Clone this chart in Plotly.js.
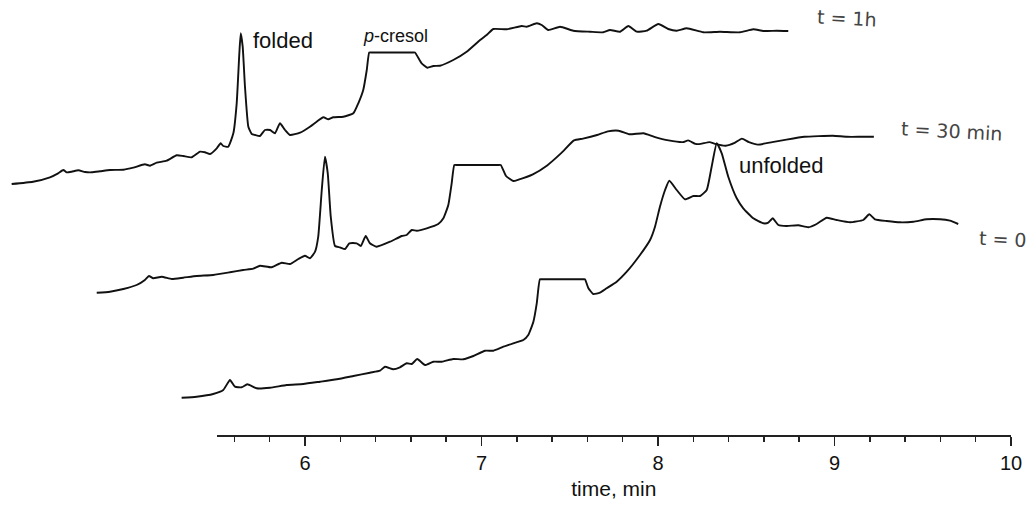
<!DOCTYPE html>
<html>
<head>
<meta charset="utf-8">
<script src="https://cdn.plot.ly/plotly-3.0.1.min.js"></script>
<style>html,body{margin:0;padding:0;background:#fff;}#chart{width:1034px;height:508px;}</style>
</head>
<body>
<div id="chart"></div>
<script>
// t = 1h chromatogram (time, min ; signal, a.u. with waterfall offset)
const t1h_time = [4.338,4.459,4.555,4.601,4.631,4.650,4.678,4.716,4.754,4.792,4.839,4.895,4.971,5.027,5.093,5.122,5.160,5.216,5.273,5.310,5.358,5.405,5.433,5.462,5.500,5.522,5.537,5.565,5.594,5.613,5.628,5.636,5.647,5.660,5.679,5.698,5.717,5.745,5.773,5.802,5.830,5.858,5.887,5.915,5.972,6.028,6.066,6.104,6.132,6.160,6.217,6.274,6.302,6.330,6.350,6.364,6.378,6.494,6.609,6.623,6.661,6.693,6.727,6.765,6.840,6.916,6.992,7.029,7.067,7.143,7.228,7.256,7.313,7.341,7.378,7.445,7.520,7.615,7.690,7.728,7.785,7.832,7.879,7.936,8.002,8.058,8.106,8.163,8.257,8.351,8.465,8.540,8.597,8.673,8.738];
const t1h_signal = [251,253.3,257.7,261.7,265,262.7,263.3,264.7,263,262.7,263.7,265,265.3,267.3,270.7,269.3,272.3,274.3,279.7,279,277.7,283.3,282.7,281,286.7,291.7,289,288.3,301.7,331.7,381.7,401.7,388.3,348.3,308.3,301,300,299,305,305,301.7,311.7,305,300,302.3,308.3,313.3,317.7,315.7,317.7,318.3,321.7,331.7,345,365,382.5,382.5,382.5,382.5,382.5,371.7,367.3,369,369.3,375,383.3,395,400,406,405.7,409,408.3,411.7,410,405,408.3,404.3,403.3,402.7,405,403.3,409,403.3,404.3,411,406,404.3,406.7,402.7,403.3,402.7,405.7,404,404.3,404];

// t = 30 min chromatogram
const t30_time = [4.820,4.895,4.971,5.046,5.093,5.116,5.140,5.188,5.245,5.310,5.386,5.480,5.575,5.650,5.707,5.745,5.811,5.868,5.915,5.962,6.000,6.028,6.057,6.075,6.095,6.113,6.129,6.146,6.170,6.198,6.227,6.251,6.293,6.316,6.344,6.368,6.406,6.482,6.548,6.576,6.605,6.633,6.690,6.755,6.784,6.812,6.831,6.846,6.860,6.978,7.095,7.109,7.139,7.180,7.210,7.291,7.372,7.453,7.524,7.575,7.655,7.716,7.777,7.837,7.918,7.979,8.060,8.141,8.171,8.212,8.242,8.292,8.323,8.384,8.434,8.475,8.515,8.566,8.647,8.728,8.829,8.910,8.991,9.071,9.152,9.223];
const t30_signal = [142.3,143.3,146,150,155,159,156.7,158.3,156,157.3,159,160,162.7,165,166.3,169.3,167.7,172.3,171,176,179.3,176.7,183.3,198.3,245,278.3,261.7,218.3,189,187.7,186,191.7,191.7,189,199,191.7,188.3,193.3,199,200,205,204.3,206.7,211,216.7,230,251.7,270,270,270,270,270,259,254,255.4,260.7,269.6,282.1,294.6,296.4,300,303.6,304.3,300.7,301.8,298.2,294.6,292.9,294.6,291.1,291.1,292.9,291.1,289.3,292.1,296.4,292.9,290.4,292.9,295.4,298.2,298.9,299.3,298.2,298.2,298.2];

// t = 0 chromatogram
const t0_time = [5.301,5.386,5.480,5.537,5.575,5.603,5.641,5.673,5.726,5.802,5.896,5.990,6.085,6.180,6.274,6.368,6.425,6.453,6.500,6.538,6.576,6.605,6.636,6.680,6.727,6.775,6.840,6.897,6.954,7.020,7.067,7.124,7.180,7.237,7.265,7.294,7.313,7.331,7.345,7.458,7.572,7.586,7.605,7.633,7.671,7.709,7.766,7.823,7.898,7.955,7.983,8.011,8.040,8.064,8.106,8.153,8.200,8.238,8.276,8.304,8.333,8.361,8.398,8.446,8.483,8.540,8.597,8.625,8.650,8.682,8.729,8.795,8.852,8.899,8.956,9.013,9.088,9.163,9.197,9.229,9.296,9.371,9.447,9.522,9.598,9.654,9.701];
const t0_signal = [37.3,38.3,41,45,55,48.3,47.7,50.7,46.7,47.3,50,51,53.3,55.7,59,62.3,64.3,68.3,65.7,67.7,71.7,71,76,70,73.3,73.3,76,75.7,79,84.3,84.3,88.3,91.7,95,100,113.3,131.7,155.7,155.7,155.7,155.7,155.7,147,141,142.3,146.7,153.3,163.3,180,195,208.3,228.3,245,254.3,245,235.7,239,239,245,268.3,291.7,281.7,258.3,236.7,226.7,216.7,211.7,212.3,216.7,210,209,209.7,207.7,211,217.3,215,212.7,215,220.7,215.7,214,212.7,213.3,215.7,215.7,214.3,211];

const majorTicks = [6,7,8,9,10];
const minorTicks = [5.6,5.8,6.2,6.4,6.6,6.8,7.2,7.4,7.6,7.8,8.2,8.4,8.6,8.8,9.2,9.4,9.6,9.8];
const axisRange = [5.5, 10];
const plotRange = [4.2720, 10.1303];

const peakLabels = [
  {text:'folded', x:5.875, y:395, size:22},
  {text:'<i>p</i>-cresol', x:6.513, y:399, size:18},
  {text:'unfolded', x:8.695, y:270, size:22}
];
const traceLabels = [
  {text:'t = 1h', x:9.07, y:417},
  {text:'t = 30 min', x:9.666, y:304},
  {text:'t = 0', x:9.955, y:196}
];

const lineStyle = {color:'#111', width:1.9, shape:'spline', smoothing:0.45};
const data = [
  {x:t1h_time, y:t1h_signal, type:'scatter', mode:'lines', line:lineStyle, hoverinfo:'skip'},
  {x:t30_time, y:t30_signal, type:'scatter', mode:'lines', line:lineStyle, hoverinfo:'skip'},
  {x:t0_time, y:t0_signal, type:'scatter', mode:'lines', line:lineStyle, hoverinfo:'skip'},
  {x:[], y:[], xaxis:'x2', yaxis:'y', type:'scatter', mode:'lines', hoverinfo:'skip'}
];

const annotations = [];
peakLabels.forEach(l => annotations.push({text:l.text, x:l.x, y:l.y, xref:'x', yref:'y', showarrow:false,
  font:{family:'Liberation Sans, Arial, sans-serif', size:l.size, color:'#111'}}));
traceLabels.forEach(l => annotations.push({text:l.text, x:l.x, y:l.y, xref:'x', yref:'y', showarrow:false, textangle:3,
  font:{family:'DejaVu Sans, sans-serif', size:19, color:'#444'}}));

// visible time axis domain follows the main x mapping
const W = 1034;
const toFrac = v => (v - plotRange[0]) / (plotRange[1] - plotRange[0]);

const layout = {
  width:W, height:508,
  margin:{l:0, r:0, t:0, b:73},
  paper_bgcolor:'#fff', plot_bgcolor:'rgba(0,0,0,0)',
  showlegend:false,
  xaxis:{range:plotRange, visible:false, showgrid:false, zeroline:false, fixedrange:true},
  xaxis2:{
    domain:[toFrac(axisRange[0]), toFrac(axisRange[1])], range:axisRange, anchor:'y',
    showgrid:false, zeroline:false, showline:true, linecolor:'#222', linewidth:1.6,
    tickmode:'array', tickvals:majorTicks, ticktext:majorTicks.map(String),
    ticks:'outside', ticklen:9, tickwidth:1.5, tickcolor:'#222',
    minor:{tickmode:'array', tickvals:minorTicks, ticks:'outside', ticklen:5, tickwidth:1.5, tickcolor:'#222', showgrid:false},
    tickfont:{family:'Liberation Sans, Arial, sans-serif', size:20, color:'#111'},
    title:{text:'time, min', standoff:9, font:{family:'Liberation Sans, Arial, sans-serif', size:21, color:'#111'}},
    automargin:false, fixedrange:true
  },
  yaxis:{range:[0,435], visible:false, showgrid:false, zeroline:false, fixedrange:true},
  annotations:annotations
};

Plotly.newPlot('chart', data, layout, {staticPlot:true, displayModeBar:false});
</script>
</body>
</html>
